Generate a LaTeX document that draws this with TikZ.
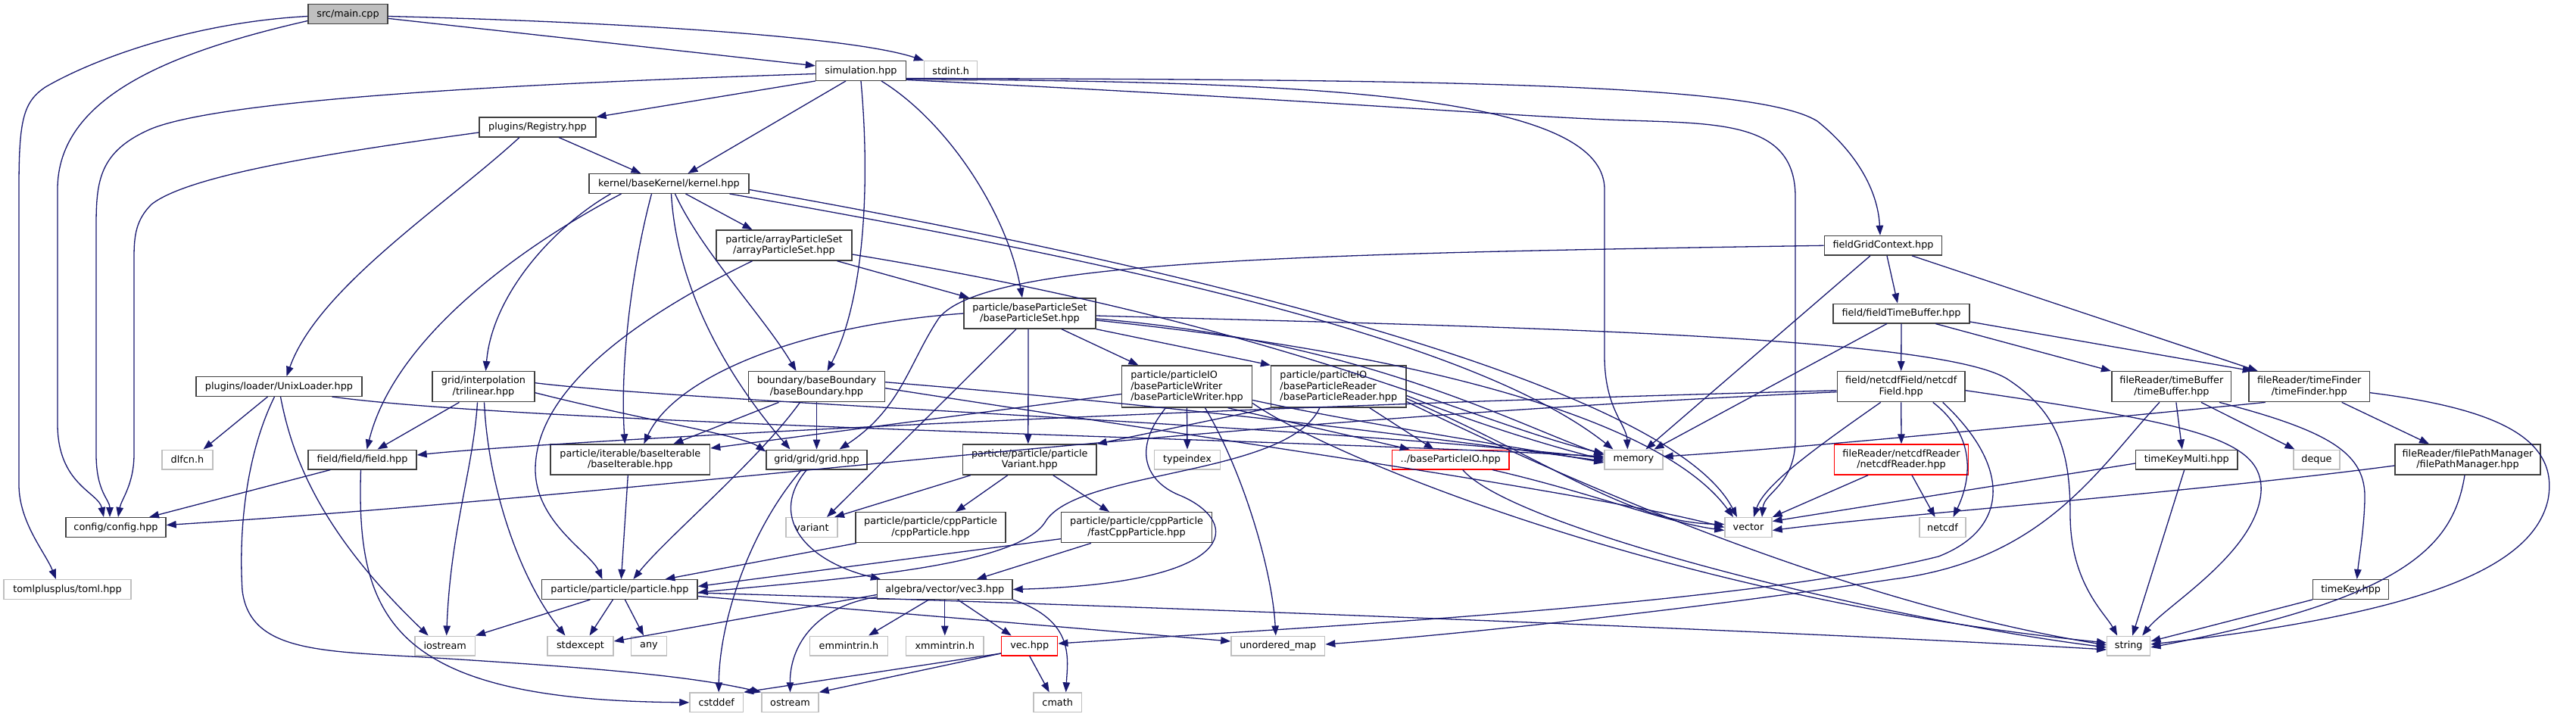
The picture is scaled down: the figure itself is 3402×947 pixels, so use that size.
\documentclass[tikz,border=0pt]{standalone}
\usepackage{fontspec}
\setmainfont{DejaVu Sans}
\usetikzlibrary{arrows.meta}
\definecolor{navy}{HTML}{191970}
\definecolor{gb}{HTML}{BFBFBF}
\definecolor{nbord}{HTML}{404040}
\newcommand{\dfont}{\fontsize{12.8}{14.5}\selectfont}
\tikzset{
 nb/.style={draw=nbord, line width=1.4pt, fill=white, inner sep=0pt, font=\dfont, align=center},
 gbx/.style={nb, draw=gb},
 rbx/.style={nb, draw=red},
 s1/.style={minimum height=25.6pt},
 s2/.style={minimum height=40pt},
 s3/.style={minimum height=55pt},
 w/.style={minimum width=#1pt},
 e/.style={draw=navy, line width=1.3pt, -{Triangle[length=13pt,width=9.5pt]}}
}
\begin{document}
\begin{tikzpicture}[x=1pt,y=-1pt]
\useasboundingbox (0,0) rectangle (3402,947);
% nodes
\node[nb,s1,w=105,fill=gb] (main) at (459.5,18.5) {src/main.cpp};
\node[nb,s1,w=119] (sim) at (1137,93.5) {simulation.hpp};
\node[gbx,s1,w=70] (stdint) at (1255.7,93.5) {stdint.h};
\node[nb,s1,w=154] (reg) at (710,168) {plugins/Registry.hpp};
\node[nb,s1,w=211] (kernel) at (883.5,242.5) {kernel/baseKernel/kernel.hpp};
\node[nb,s2,w=179] (aps) at (1035.5,324) {particle/arrayParticleSet\\/arrayParticleSet.hpp};
\node[nb,s1,w=155.5] (fgc) at (2487,324.3) {fieldGridContext.hpp};
\node[nb,s2,w=174] (bps) at (1360,414) {particle/baseParticleSet\\/baseParticleSet.hpp};
\node[nb,s1,w=180] (ftb) at (2511,414) {field/fieldTimeBuffer.hpp};
\node[nb,s1,w=219] (ul) at (368.5,510.5) {plugins/loader/UnixLoader.hpp};
\node[nb,s2,w=135] (tril) at (638.5,510.7) {grid/interpolation\\/trilinear.hpp};
\node[nb,s2,w=180] (bb) at (1078.5,510.7) {boundary/baseBoundary\\/baseBoundary.hpp};
\node[nb,s3,w=172,align=left] (writer) at (1567.5,510.5) {particle/particleIO\\/baseParticleWriter\\/baseParticleWriter.hpp};
\node[nb,s3,w=178.4,align=left] (reader) at (1767.8,510.5) {particle/particleIO\\/baseParticleReader\\/baseParticleReader.hpp};
\node[nb,s2,w=168.6] (ncf) at (2510.7,510.7) {field/netcdfField/netcdf\\Field.hpp};
\node[nb,s2,w=157.7] (tb) at (2867.9,510.7) {fileReader/timeBuffer\\/timeBuffer.hpp};
\node[nb,s2,w=159.3] (tf) at (3049.7,510.7) {fileReader/timeFinder\\/timeFinder.hpp};
\node[gbx,s1,w=67] (dlfcn) at (247.5,607) {dlfcn.h};
\node[nb,s1,w=143] (field) at (478.5,607) {field/field/field.hpp};
\node[nb,s2,w=210.6] (biter) at (832.3,607) {particle/iterable/baseIterable\\/baseIterable.hpp};
\node[nb,s1,w=133] (grid) at (1078.5,607) {grid/grid/grid.hpp};
\node[nb,s2,w=176.4] (pvar) at (1359.8,607) {particle/particle/particle\\Variant.hpp};
\node[gbx,s1,w=87] (typeindex) at (1568,607) {typeindex};
\node[rbx,s1,w=154.5] (bpio) at (1915.7,607) {../baseParticleIO.hpp};
\node[gbx,s1,w=77] (memory) at (2157.4,607) {memory};
\node[rbx,s2,w=177] (ncr) at (2511,607) {fileReader/netcdfReader\\/netcdfReader.hpp};
\node[nb,s1,w=134.4] (tkm) at (2887.8,607) {timeKeyMulti.hpp};
\node[gbx,s1,w=61] (deque) at (3059.5,607) {deque};
\node[nb,s2,w=192] (fpm) at (3259,607) {fileReader/filePathManager\\/filePathManager.hpp};
\node[nb,s1,w=132] (config) at (153,696.5) {config/config.hpp};
\node[gbx,s1,w=68] (variant) at (1072,696.5) {variant};
\node[nb,s2,w=198] (cpp) at (1229,696.7) {particle/particle/cppParticle\\/cppParticle.hpp};
\node[nb,s2,w=199] (fcpp) at (1501,696.7) {particle/particle/cppParticle\\/fastCppParticle.hpp};
\node[gbx,s1,w=62] (vector) at (2309,696.5) {vector};
\node[gbx,s1,w=61] (netcdf) at (2565.5,696.5) {netcdf};
\node[gbx,s1,w=168] (toml) at (89,778.5) {tomlplusplus/toml.hpp};
\node[nb,s1,w=205.3] (particle) at (818.4,778.5) {particle/particle/particle.hpp};
\node[nb,s1,w=178.4] (vec3) at (1247.8,778.5) {algebra/vector/vec3.hpp};
\node[nb,s1,w=100] (timekey) at (3104.7,778.5) {timeKey.hpp};
\node[gbx,s1,w=79.4] (iostream) at (587.7,853) {iostream};
\node[gbx,s1,w=87] (stdexcept) at (766.5,853) {stdexcept};
\node[gbx,s1,w=47] (any) at (857,853) {any};
\node[gbx,s1,w=102.6] (emm) at (1121,853) {emmintrin.h};
\node[gbx,s1,w=102.5] (xmm) at (1247.8,853) {xmmintrin.h};
\node[rbx,s1,w=74] (vechpp) at (1359.7,853) {vec.hpp};
\node[gbx,s1,w=123.7] (um) at (1687.8,853) {unordered\_map};
\node[gbx,s1,w=57] (string) at (2811.2,853) {string};
\node[gbx,s1,w=70.5] (cstddef) at (946.2,927.8) {cstddef};
\node[gbx,s1,w=75] (ostream) at (1043.5,927.8) {ostream};
\node[gbx,s1,w=63.5] (cmath) at (1396.7,927.8) {cmath};
% main
\draw[e] (main) -- (sim);
\draw[e] ([yshift=-3pt]main.east) .. controls (850,30) and (1130,50) .. (stdint.north west);
\draw[e] ([yshift=-9pt]main.west) .. controls (220,70) and (76,130) .. (76,250) -- (76,560) .. controls (76,640) and (130,650) .. ([xshift=-16pt]config.north);
\draw[e] ([yshift=-3pt]main.west) .. controls (250,30) and (120,80) .. (60,115) .. controls (30,135) and (25,160) .. (25,250) -- (25,640) .. controls (25,690) and (60,730) .. ([xshift=-15pt]toml.north);
% simulation
\draw[e] ([yshift=-4pt]sim.west) .. controls (700,110) and (300,130) .. (200,170) .. controls (130,200) and (127,240) .. (127,300) -- (127,600) .. controls (127,650) and (145,660) .. ([xshift=-8pt]config.north);
\draw[e] (sim.south west) -- (reg.north east);
\draw[e] ([xshift=-20pt]sim.south) -- ([xshift=25pt]kernel.north);
\draw[e] (sim.south) .. controls (1150,250) and (1140,400) .. ([xshift=14pt]bb.north);
\draw[e] ([xshift=27pt]sim.south) .. controls (1250,160) and (1330,280) .. ([xshift=-10pt]bps.north);
\draw[e] ([yshift=-11pt]sim.east) .. controls (1700,108) and (2119,120) .. (2119,250) -- (2119,470) .. controls (2119,540) and (2148,560) .. ([xshift=-8pt]memory.north);
\draw[e] ([yshift=-12pt]sim.east) .. controls (1700,130) and (1950,150) .. (2100,157) .. controls (2250,165) and (2371,150) .. (2371,260) -- (2371,580) .. controls (2371,640) and (2330,650) .. ([xshift=18pt]vector.north);
\draw[e] ([yshift=-10pt]sim.east) .. controls (1900,105) and (2320,110) .. (2400,160) .. controls (2450,200) and (2480,250) .. ([xshift=-4pt]fgc.north);
% registry
\draw[e] ([yshift=-7pt]reg.west) .. controls (450,200) and (250,230) .. (200,270) .. controls (180,290) and (177,310) .. (177,340) -- (177,600) .. controls (177,640) and (160,660) .. ([xshift=3pt]config.north);
\draw[e] ([xshift=28pt]reg.south) -- ([xshift=-37pt]kernel.north);
\draw[e] ([xshift=-24pt]reg.south) .. controls (590,270) and (420,380) .. ([xshift=10pt]ul.north);
% kernel
\draw[e] ([xshift=-77pt]kernel.south) .. controls (730,300) and (650,390) .. ([xshift=3pt]tril.north);
\draw[e] ([xshift=-63pt]kernel.south) .. controls (680,330) and (520,450) .. ([xshift=6pt]field.north);
\draw[e] ([xshift=-23pt]kernel.south) .. controls (838,340) and (818,470) .. ([xshift=-7pt]biter.north);
\draw[e] ([xshift=3pt]kernel.south) .. controls (895,400) and (980,520) .. ([xshift=-35pt]grid.north);
\draw[e] ([xshift=8pt]kernel.south) .. controls (925,330) and (1010,420) .. ([xshift=-27pt]bb.north);
\draw[e] ([xshift=22pt]kernel.south) -- ([xshift=-42pt]aps.north);
\draw[e] ([xshift=80pt]kernel.south) .. controls (1500,350) and (1950,450) .. ([xshift=-27pt]memory.north);
\draw[e] ([yshift=-8pt]kernel.east) .. controls (1500,340) and (2200,500) .. ([xshift=-15pt]vector.north);
% arrayParticleSet
\draw[e] ([xshift=70pt]aps.south) -- ([xshift=-80pt]bps.north);
\draw[e] ([xshift=-42pt]aps.south) .. controls (880,400) and (707,500) .. (707,620) .. controls (707,690) and (780,730) .. ([xshift=-23pt]particle.north);
\draw[e] ([yshift=-12pt]aps.east) .. controls (1700,430) and (1950,560) .. ([yshift=8pt]memory.west);
% UnixLoader
\draw[e] ([xshift=-15pt]ul.south) -- ([xshift=21pt]dlfcn.north);
\draw[e] ([xshift=2pt]ul.south) .. controls (385,600) and (420,700) .. ([xshift=-22pt]iostream.north);
\draw[e] ([xshift=-6pt]ul.south) .. controls (325,600) and (315,700) .. (320,780) .. controls (330,860) and (420,860) .. (560,868) .. controls (750,880) and (900,890) .. (ostream.north west);
\draw[e] ([xshift=70pt]ul.south) .. controls (700,560) and (1700,580) .. ([yshift=4pt]memory.west);
% trilinear
\draw[e] ([xshift=-32pt]tril.south) -- ([xshift=20pt]field.north);
\draw[e] ([xshift=-8pt]tril.south) .. controls (625,620) and (595,700) .. ([xshift=2pt]iostream.north);
\draw[e] ([xshift=1pt]tril.south) .. controls (645,650) and (690,770) .. ([xshift=-20pt]stdexcept.north);
\draw[e] ([yshift=-8pt]tril.east) .. controls (850,555) and (980,575) .. ([yshift=-3pt]grid.north west);
\draw[e] ([yshift=5pt]tril.east) .. controls (900,530) and (1700,560) .. ([yshift=2pt]memory.west);
% field
\draw[e] ([xshift=-42pt]field.south) -- ([xshift=44pt]config.north);
\draw[e] ([xshift=-2pt]field.south) .. controls (470,820) and (520,925) .. (cstddef.west);
% baseIterable
\draw[e] ([xshift=-3pt]biter.south) -- ([xshift=2pt]particle.north);
% baseBoundary
\draw[e] ([xshift=-50pt]bb.south) -- ([xshift=57pt]biter.north);
\draw[e] ([xshift=-22pt]bb.south) .. controls (1000,610) and (880,710) .. ([xshift=18pt]particle.north);
\draw[e] (bb.south) -- (grid.north);
\draw[e] ([yshift=6pt]bb.east) .. controls (1600,540) and (1900,580) .. ([yshift=-2pt]memory.west);
\draw[e] ([yshift=-2pt]bb.east) .. controls (1600,580) and (2100,650) .. (vector.west);
% grid
\draw[e] ([xshift=-13pt]grid.south) .. controls (1015,680) and (1060,740) .. ([xshift=5pt]vec3.north west);
\draw[e] ([xshift=-20pt]grid.south) .. controls (990,700) and (950,820) .. ([xshift=3pt]cstddef.north);
% baseParticleSet
\draw[e] (bps.west) .. controls (1050,430) and (890,500) .. ([xshift=18pt]biter.north);
\draw[e] ([xshift=-2pt]bps.south) -- ([xshift=-2pt]pvar.north);
\draw[e] ([xshift=-18pt]bps.south) -- ([xshift=20pt]variant.north);
\draw[e] ([xshift=42pt]bps.south) -- ([xshift=-64pt]writer.north);
\draw[e] (bps.south east) -- (reader.north west);
\draw[e] ([yshift=-3pt]bps.east) .. controls (1900,430) and (2550,440) .. (2650,500) .. controls (2720,545) and (2734,600) .. (2734,680) .. controls (2734,770) and (2780,810) .. ([xshift=-15pt]string.north);
\draw[e] ([yshift=-7pt]bps.east) .. controls (1800,450) and (2000,560) .. ([yshift=6pt]memory.west);
\draw[e] ([yshift=-9pt]bps.east) .. controls (1900,470) and (2200,560) .. ([xshift=-20pt]vector.north);
% particleVariant
\draw[e] ([xshift=-78pt]pvar.south) -- ([xshift=30pt]variant.north);
\draw[e] ([xshift=-29pt]pvar.south) -- ([xshift=33pt]cpp.north);
\draw[e] ([xshift=31pt]pvar.south) -- ([xshift=-36pt]fcpp.north);
\draw[e] ([xshift=-98pt]cpp.south) -- ([xshift=60pt]particle.north);
\draw[e] ([yshift=-15pt]fcpp.west) -- ([yshift=4pt]particle.east);
\draw[e] ([xshift=-60pt]fcpp.south) -- ([xshift=42pt]vec3.north);
% writer
\draw[e] ([xshift=-28pt]writer.south) .. controls (1490,600) and (1520,640) .. (1560,655) .. controls (1640,690) and (1640,770) .. (vec3.east);
\draw[e] (writer.south) -- (typeindex.north);
\draw[e] ([xshift=24pt]writer.south) .. controls (1640,620) and (1680,750) .. ([xshift=-3pt]um.north);
\draw[e] ([yshift=-10pt]writer.west) -- ([yshift=15pt]biter.east);
\draw[e] ([xshift=54pt]writer.south) -- ([xshift=-54pt]bpio.north);
\draw[e] ([yshift=-18pt]writer.east) .. controls (1800,560) and (2000,590) .. ([yshift=-4pt]memory.west);
\draw[e] ([yshift=-22pt]writer.east) .. controls (1750,600) and (2200,790) .. ([yshift=4pt]string.west);
% reader
\draw[e] (reader.south west) -- (pvar.north east);
\draw[e] ([xshift=41pt]reader.south) -- ([xshift=-22pt]bpio.north);
\draw[e] ([xshift=-25pt]reader.south) .. controls (1700,630) and (1420,620) .. (1380,690) .. controls (1340,750) and (1100,765) .. ([yshift=-4pt]particle.east);
\draw[e] ([yshift=-12pt]reader.east) .. controls (1950,560) and (2050,590) .. (memory.west);
\draw[e] ([yshift=-16pt]reader.east) .. controls (2050,610) and (2150,690) .. ([yshift=4pt]vector.west);
\draw[e] ([yshift=-20pt]reader.east) .. controls (2000,600) and (2400,790) .. ([yshift=1pt]string.west);
% baseParticleIO
\draw[e] ([xshift=55pt]bpio.south) .. controls (2100,650) and (2200,690) .. ([yshift=-4pt]vector.west);
\draw[e] ([xshift=16pt]bpio.south) .. controls (2000,700) and (2500,820) .. ([yshift=-2pt]string.west);
% particle
\draw[e] ([xshift=-39pt]particle.south) -- (iostream.north east);
\draw[e] ([xshift=-9pt]particle.south) -- ([xshift=12pt]stdexcept.north);
\draw[e] ([xshift=7pt]particle.south) -- ([xshift=-7pt]any.north);
\draw[e] ([yshift=-4.5pt]particle.east) .. controls (1500,800) and (2400,835) .. ([yshift=-5pt]string.west);
\draw[e] ([yshift=-9pt]particle.east) -- ([yshift=6pt]um.west);
% vec3
\draw[e] ([yshift=-7pt]vec3.west) -- ([yshift=6pt]stdexcept.east);
\draw[e] ([yshift=-10pt]vec3.west) .. controls (1080,800) and (1043,850) .. (ostream.north);
\draw[e] ([xshift=-21pt]vec3.south) -- ([xshift=26pt]emm.north);
\draw[e] (vec3.south) -- (xmm.north);
\draw[e] ([xshift=17pt]vec3.south) -- ([xshift=-24pt]vechpp.north);
\draw[e] (vec3.south east) .. controls (1420,820) and (1410,870) .. ([xshift=11pt]cmath.north);
% vec.hpp
\draw[e] ([yshift=-10pt]vechpp.west) -- (cstddef.north east);
\draw[e] ([yshift=-10pt]vechpp.west) -- (ostream.north east);
\draw[e] (vechpp.south) -- ([xshift=-11pt]cmath.north);
% netcdfField
\draw[e] ([yshift=-5pt]ncf.west) .. controls (1500,540) and (700,585) .. ([yshift=6pt]field.east);
\draw[e] ([yshift=-7pt]ncf.west) .. controls (1500,560) and (900,650) .. ([yshift=3pt]config.east);
\draw[e] (ncf.south) -- (ncr.north);
\draw[e] ([xshift=-27pt]ncf.south) .. controls (2400,590) and (2330,640) .. ([xshift=7pt]vector.north);
\draw[e] ([xshift=42pt]ncf.south) .. controls (2615,580) and (2600,640) .. ([xshift=14pt]netcdf.north);
\draw[e] ([xshift=55pt]ncf.south) .. controls (2660,620) and (2650,700) .. (2560,735) .. controls (2300,800) and (1700,830) .. ([yshift=3pt]vechpp.east);
\draw[e] ([yshift=-5pt]ncf.east) .. controls (2900,560) and (2990,580) .. (2986,650) .. controls (2980,730) and (2860,800) .. ([xshift=18pt]string.north);
% netcdfReader
\draw[e] ([xshift=-44pt]ncr.south) -- (vector.north east);
\draw[e] ([xshift=14pt]ncr.south) -- ([xshift=-10pt]netcdf.north);
% fieldGridContext
\draw[e] (fgc.west) .. controls (1700,335) and (1300,345) .. (1240,420) .. controls (1200,480) and (1190,540) .. ([xshift=30pt]grid.north);
\draw[e] ([xshift=-17pt]fgc.south) -- ([xshift=16pt]memory.north);
\draw[e] ([xshift=5pt]fgc.south) -- ([xshift=-5pt]ftb.north);
\draw[e] ([xshift=38pt]fgc.south) -- ([xshift=-68pt]tf.north);
% fieldTimeBuffer
\draw[e] ([xshift=-19pt]ftb.south) -- ([xshift=27pt]memory.north);
\draw[e] (ftb.south) -- (ncf.north);
\draw[e] ([xshift=45pt]ftb.south) -- ([xshift=-80pt]tb.north);
\draw[e] ([yshift=-11pt]ftb.east) -- ([xshift=-75pt]tf.north);
% timeBuffer
\draw[e] ([xshift=-16pt]tb.south) .. controls (2770,620) and (2700,740) .. (2500,765) .. controls (2200,810) and (1900,840) .. ([yshift=2pt]um.east);
\draw[e] ([xshift=6pt]tb.south) -- ([xshift=-6pt]tkm.north);
\draw[e] ([xshift=39pt]tb.south) -- ([xshift=-29pt]deque.north);
\draw[e] ([xshift=63pt]tb.south) .. controls (3080,570) and (3125,600) .. (3123,660) .. controls (3122,700) and (3115,740) .. ([xshift=8pt]timekey.north);
% timeKeyMulti
\draw[e] ([yshift=-5pt]tkm.west) -- ([yshift=8pt]vector.east);
\draw[e] ([xshift=-3pt]tkm.south) -- ([xshift=5pt]string.north);
% timeFinder
\draw[e] ([xshift=-58pt]tf.south) .. controls (2700,560) and (2400,590) .. ([yshift=4pt]memory.east);
\draw[e] ([xshift=43pt]tf.south) -- ([xshift=-51pt]fpm.north);
\draw[e] ([yshift=-8pt]tf.east) .. controls (3300,540) and (3380,580) .. (3365,660) .. controls (3345,750) and (3200,810) .. ([yshift=2pt]string.east);
% filePathManager
\draw[e] ([yshift=-8pt]fpm.west) .. controls (2900,650) and (2500,680) .. ([yshift=-4pt]vector.east);
\draw[e] ([xshift=-4pt]fpm.south) .. controls (3240,720) and (3180,790) .. ([yshift=-2pt]string.east);
\draw[e] (timekey.south west) -- ([yshift=6pt]string.east);
\end{tikzpicture}
\end{document}
